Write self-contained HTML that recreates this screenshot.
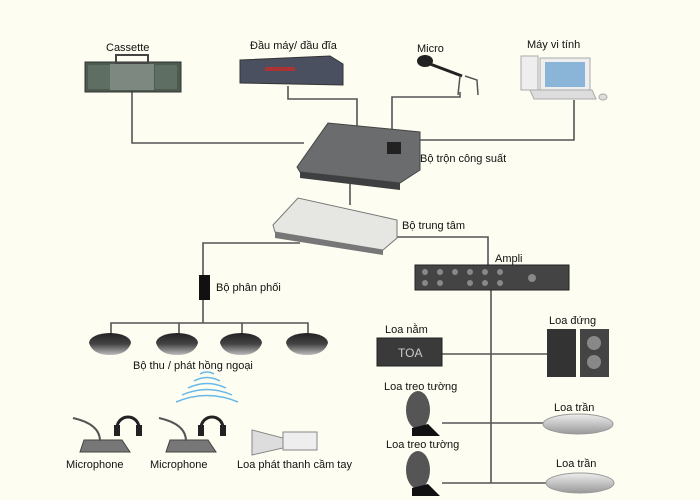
<!DOCTYPE html>
<html><head><meta charset="utf-8"><style>
html,body{margin:0;padding:0;background:#fdfdf1}
svg{display:block}
text{font-family:"Liberation Sans","DejaVu Sans",sans-serif;font-size:11px;fill:#111}
</style></head><body>
<svg width="700" height="500" viewBox="0 0 700 500">
<rect width="700" height="500" fill="#fdfdf1"/>
<defs>
<linearGradient id="dome" x1="0" y1="0" x2="0" y2="1"><stop offset="0" stop-color="#222"/><stop offset="0.5" stop-color="#444"/><stop offset="1" stop-color="#bbb"/></linearGradient>
<linearGradient id="ceil" x1="0" y1="0" x2="0" y2="1"><stop offset="0" stop-color="#eee"/><stop offset="1" stop-color="#999"/></linearGradient>
</defs>
<g stroke="#555" stroke-width="1.6" fill="none">
<polyline points="132,92 132,143 304,143"/>
<polyline points="288,86 288,99 357,99 357,133"/>
<polyline points="460,92 460,97 392,97 392,132"/>
<polyline points="574,100 574,140 418,140"/>
<line x1="350" y1="180" x2="350" y2="205"/>
<polyline points="300,243 203,243 203,276"/>
<line x1="203" y1="298" x2="203" y2="323"/>
<polyline points="111,334 111,323 308,323 308,334"/>
<line x1="179" y1="323" x2="179" y2="334"/>
<line x1="242" y1="323" x2="242" y2="334"/>
<polyline points="393,237 488,237 488,266"/>
<line x1="491" y1="290" x2="491" y2="483"/>
<line x1="442" y1="354" x2="548" y2="354"/>
<line x1="442" y1="423" x2="543" y2="423"/>
<line x1="442" y1="483" x2="546" y2="483"/>
</g>
<!-- cassette -->
<rect x="85" y="62" width="96" height="30" fill="#4c5a50" stroke="#333"/>
<rect x="88" y="65" width="22" height="24" fill="#5f6e63"/>
<rect x="155" y="65" width="22" height="24" fill="#5f6e63"/>
<rect x="110" y="64" width="44" height="26" fill="#7c8880"/>
<rect x="116" y="55" width="32" height="8" fill="none" stroke="#444" stroke-width="2"/>
<!-- dvd -->
<polygon points="240,60 330,56 343,64 343,85 240,83" fill="#4a5060" stroke="#333"/>
<rect x="265" y="67" width="30" height="4" fill="#a33"/>
<!-- micro -->
<ellipse cx="425" cy="61" rx="8" ry="6" fill="#222"/>
<line x1="430" y1="64" x2="462" y2="76" stroke="#222" stroke-width="3"/>
<path d="M460,76 L458,95 M465,76 L477,80 L478,95" stroke="#555" stroke-width="1.5" fill="none"/>
<!-- computer -->
<rect x="521" y="56" width="17" height="34" fill="#eee" stroke="#aaa"/>
<rect x="540" y="58" width="50" height="34" fill="#eee" stroke="#aaa"/>
<rect x="545" y="62" width="40" height="25" fill="#8ab4d8"/>
<polygon points="530,90 592,90 596,99 534,99" fill="#ddd" stroke="#aaa"/>
<ellipse cx="603" cy="97" rx="4" ry="3" fill="#ddd" stroke="#aaa"/>
<!-- mixer -->
<polygon points="297,167 328,123 420,132 420,170 400,183 300,172" fill="#6a6c6e" stroke="#444"/>
<polygon points="300,172 400,183 400,190 300,178" fill="#3d3f40"/>
<rect x="387" y="142" width="14" height="12" fill="#222"/>
<!-- central -->
<polygon points="273,225 298,198 397,220 397,238 383,250 275,232" fill="#e6e6e2" stroke="#777"/>
<polygon points="275,232 383,250 383,255 275,238" fill="#777"/>
<!-- distributor -->
<rect x="199" y="275" width="11" height="25" fill="#111"/>
<!-- domes -->
<g fill="url(#dome)">
<path d="M89,343 A21,10 0 0 1 131,343 Q127,355 110,355 Q93,355 89,343Z"/>
<path d="M156,343 A21,10 0 0 1 198,343 Q194,355 177,355 Q160,355 156,343Z"/>
<path d="M220,343 A21,10 0 0 1 262,343 Q258,355 241,355 Q224,355 220,343Z"/>
<path d="M286,343 A21,10 0 0 1 328,343 Q324,355 307,355 Q290,355 286,343Z"/>
</g>
<!-- waves -->
<g fill="none" stroke="#6ab8e8" stroke-width="1.5">
<path d="M200,374 Q207,370 214,374"/><path d="M194,381 Q207,374 220,381"/>
<path d="M188,388 Q207,379 226,388"/><path d="M182,395 Q207,384 232,395"/>
<path d="M176,402 Q207,389 238,402"/>
</g>
<!-- mics -->
<polygon points="84,440 122,440 130,452 80,452" fill="#777" stroke="#444"/>
<path d="M100,441 Q100,424 73,418" fill="none" stroke="#555" stroke-width="2"/>
<path d="M117,428 A11,11 0 0 1 139,428" fill="none" stroke="#222" stroke-width="3"/>
<rect x="114" y="425" width="6" height="11" fill="#222"/><rect x="136" y="425" width="6" height="11" fill="#222"/>
<polygon points="170,440 208,440 216,452 166,452" fill="#777" stroke="#444"/>
<path d="M186,441 Q186,424 159,418" fill="none" stroke="#555" stroke-width="2"/>
<path d="M201,428 A11,11 0 0 1 223,428" fill="none" stroke="#222" stroke-width="3"/>
<rect x="198" y="425" width="6" height="11" fill="#222"/><rect x="220" y="425" width="6" height="11" fill="#222"/>
<!-- megaphone -->
<polygon points="252,430 283,438 283,448 252,455" fill="#ddd" stroke="#888"/>
<rect x="283" y="432" width="34" height="18" fill="#eee" stroke="#888"/>
<!-- ampli -->
<rect x="415" y="265" width="154" height="25" fill="#444" stroke="#222"/>
<g fill="#888"><circle cx="425" cy="272" r="3"/><circle cx="440" cy="272" r="3"/><circle cx="455" cy="272" r="3"/><circle cx="470" cy="272" r="3"/><circle cx="485" cy="272" r="3"/><circle cx="500" cy="272" r="3"/><circle cx="425" cy="283" r="3"/><circle cx="440" cy="283" r="3"/><circle cx="470" cy="283" r="3"/><circle cx="485" cy="283" r="3"/><circle cx="500" cy="283" r="3"/><circle cx="532" cy="278" r="4"/></g>
<!-- loa nam -->
<rect x="377" y="338" width="65" height="28" fill="#3a3a3a" stroke="#222"/>
<text x="398" y="357" style="fill:#ccc;font-size:12px">TOA</text>
<!-- loa dung -->
<rect x="547" y="329" width="29" height="48" fill="#333"/>
<rect x="580" y="329" width="29" height="48" fill="#444"/>
<circle cx="594" cy="343" r="7" fill="#888"/><circle cx="594" cy="362" r="7" fill="#888"/>
<!-- wall speakers -->
<ellipse cx="418" cy="410" rx="12" ry="19" fill="#555"/>
<polygon points="412,428 428,424 440,436 412,436" fill="#111"/>
<ellipse cx="418" cy="470" rx="12" ry="19" fill="#555"/>
<polygon points="412,488 428,484 440,496 412,496" fill="#111"/>
<!-- ceiling -->
<ellipse cx="578" cy="424" rx="35" ry="10" fill="url(#ceil)" stroke="#999"/>
<ellipse cx="580" cy="483" rx="34" ry="10" fill="url(#ceil)" stroke="#999"/>
<!-- labels -->
<text x="106" y="51">Cassette</text>
<text x="250" y="49">Đầu máy/ đầu đĩa</text>
<text x="417" y="52">Micro</text>
<text x="527" y="48">Máy vi tính</text>
<text x="420" y="162">Bộ trộn công suất</text>
<text x="402" y="229">Bộ trung tâm</text>
<text x="216" y="291">Bộ phân phối</text>
<text x="133" y="369">Bộ thu / phát hồng ngoại</text>
<text x="66" y="468">Microphone</text>
<text x="150" y="468">Microphone</text>
<text x="237" y="468">Loa phát thanh cầm tay</text>
<text x="495" y="262">Ampli</text>
<text x="385" y="333">Loa nằm</text>
<text x="549" y="324">Loa đứng</text>
<text x="384" y="390">Loa treo tường</text>
<text x="554" y="411">Loa trần</text>
<text x="386" y="448">Loa treo tường</text>
<text x="556" y="467">Loa trần</text>
</svg>
</body></html>
